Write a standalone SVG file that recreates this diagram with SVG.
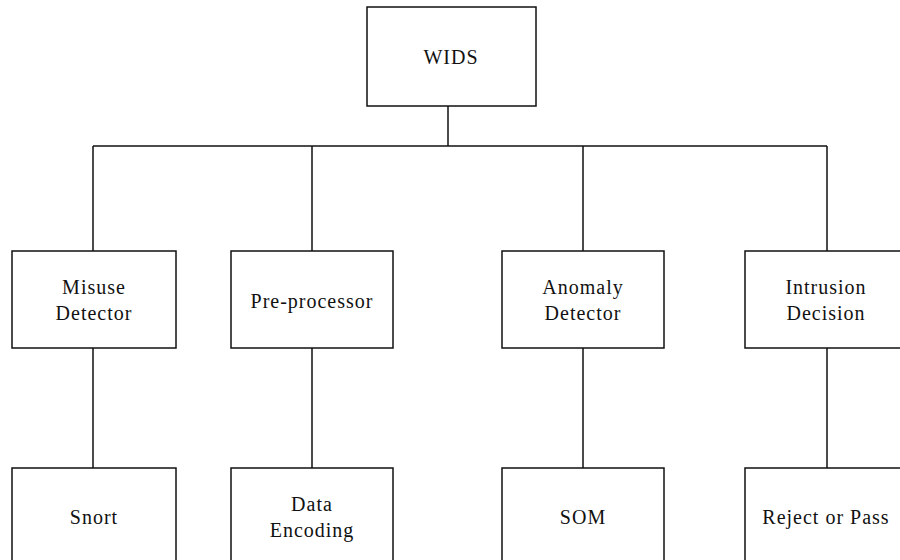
<svg xmlns="http://www.w3.org/2000/svg" width="900" height="560" viewBox="0 0 900 560">
  <style>
    .box { fill: #ffffff; stroke: #111111; stroke-width: 1.5; }
    .wire { fill: none; stroke: #111111; stroke-width: 1.5; }
    .label { font-family: "Liberation Serif", "Times New Roman", serif; font-size: 20px; fill: #111111; text-anchor: middle; letter-spacing: 1px; }
  </style>
  <rect x="0" y="0" width="900" height="560" fill="#ffffff"/>

  <g id="connectors">
    <path class="wire" d="M448 106 V146"/>
    <path class="wire" d="M93 146 H827"/>
    <path class="wire" d="M93 146 V251 M312 146 V251 M583 146 V251 M827 146 V251"/>
    <path class="wire" d="M93 348 V468 M312 348 V468 M583 348 V468 M827 348 V468"/>
  </g>

  <g id="wids">
    <rect class="box" x="367" y="7" width="169" height="99"/>
    <text class="label" x="451" y="64">WIDS</text>
  </g>

  <g id="misuse-detector">
    <rect class="box" x="12" y="251" width="164" height="97"/>
    <text class="label" x="94" y="294">Misuse</text>
    <text class="label" x="94" y="320">Detector</text>
  </g>

  <g id="pre-processor">
    <rect class="box" x="231" y="251" width="162" height="97"/>
    <text class="label" x="312" y="308">Pre-processor</text>
  </g>

  <g id="anomaly-detector">
    <rect class="box" x="502" y="251" width="162" height="97"/>
    <text class="label" x="583" y="294">Anomaly</text>
    <text class="label" x="583" y="320">Detector</text>
  </g>

  <g id="intrusion-decision">
    <rect class="box" x="745" y="251" width="162" height="97"/>
    <text class="label" x="826" y="294">Intrusion</text>
    <text class="label" x="826" y="320">Decision</text>
  </g>

  <g id="snort">
    <rect class="box" x="12" y="468" width="164" height="97"/>
    <text class="label" x="94" y="524">Snort</text>
  </g>

  <g id="data-encoding">
    <rect class="box" x="231" y="468" width="162" height="97"/>
    <text class="label" x="312" y="511">Data</text>
    <text class="label" x="312" y="537">Encoding</text>
  </g>

  <g id="som">
    <rect class="box" x="502" y="468" width="162" height="97"/>
    <text class="label" x="583" y="524">SOM</text>
  </g>

  <g id="reject-or-pass">
    <rect class="box" x="745" y="468" width="162" height="97"/>
    <text class="label" x="826" y="524">Reject or Pass</text>
  </g>
</svg>
